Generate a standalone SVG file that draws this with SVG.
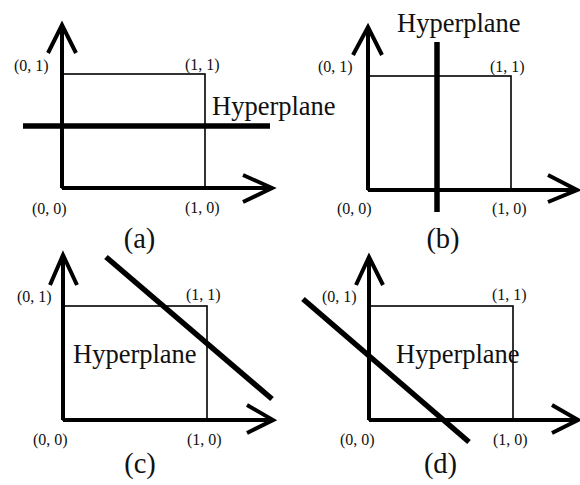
<svg xmlns="http://www.w3.org/2000/svg" width="580" height="485" viewBox="0 0 580 485">
<style>
.ax{stroke:#000;stroke-width:4;fill:none;stroke-linejoin:miter}
.bx{stroke:#000;stroke-width:1.6;fill:none}
.hp{stroke:#000;stroke-width:5.5;fill:none}
text{font-family:"Liberation Serif","Times New Roman",serif;fill:#111}
.s{font-size:16px}
.h{font-size:26.5px}
.c{font-size:28.5px;text-anchor:middle}
</style>
<rect width="580" height="485" fill="#fff"/>
<g id="panel-a">
<rect class="bx" x="62" y="74" width="143" height="114"/>
<line class="hp" x1="23" y1="126" x2="270" y2="126"/>
<g id="axes-a">
<path class="ax" d="M62,188V25M48,53L62,25L76,53"/>
<path class="ax" d="M62,188H272M243,175L272,188L243,202"/>
</g>
<text class="s" x="14" y="71">(0, 1)</text>
<text class="s" x="185" y="70">(1, 1)</text>
<text class="s" x="32" y="214" font-size="17">(0, 0)</text>
<text class="s" x="185" y="213">(1, 0)</text>
<text class="h" x="212" y="115">Hyperplane</text>
<text class="c" x="139.5" y="248">(a)</text>
</g>
<g id="panel-b">
<rect class="bx" x="368" y="76" width="143" height="114"/>
<line class="hp" x1="437" y1="42" x2="437" y2="212"/>
<g id="axes-b">
<path class="ax" d="M368,190V27M353,55L368,27L382,55"/>
<path class="ax" d="M368,190H577M548,175L577,190L548,202"/>
</g>
<text class="h" x="397" y="32">Hyperplane</text>
<text class="s" x="318" y="72">(0, 1)</text>
<text class="s" x="490" y="72">(1, 1)</text>
<text class="s" x="337" y="214">(0, 0)</text>
<text class="s" x="492" y="214">(1, 0)</text>
<text class="c" x="443" y="248">(b)</text>
</g>
<g id="panel-c">
<rect class="bx" x="63" y="306" width="144" height="114"/>
<line class="hp" x1="106" y1="257" x2="272" y2="399"/>
<g id="axes-c">
<path class="ax" d="M63,420V255M50,285L63,255L77,285"/>
<path class="ax" d="M63,420H273M247,405L273,420L247,433"/>
</g>
<text class="h" x="73" y="363">Hyperplane</text>
<text class="s" x="17" y="302">(0, 1)</text>
<text class="s" x="186" y="300">(1, 1)</text>
<text class="s" x="33" y="445">(0, 0)</text>
<text class="s" x="187" y="445">(1, 0)</text>
<text class="c" x="140" y="473">(c)</text>
</g>
<g id="panel-d">
<rect class="bx" x="369" y="306" width="144" height="114"/>
<line class="hp" x1="303" y1="299" x2="469" y2="442"/>
<g id="axes-d">
<path class="ax" d="M369,420V257M356,285L369,257L383,285"/>
<path class="ax" d="M369,420H578M552,405L578,420L552,433"/>
</g>
<text class="h" x="396" y="363">Hyperplane</text>
<text class="s" x="322" y="302">(0, 1)</text>
<text class="s" x="492" y="300">(1, 1)</text>
<text class="s" x="340" y="445">(0, 0)</text>
<text class="s" x="493" y="445">(1, 0)</text>
<text class="c" x="440.5" y="473">(d)</text>
</g>
</svg>
